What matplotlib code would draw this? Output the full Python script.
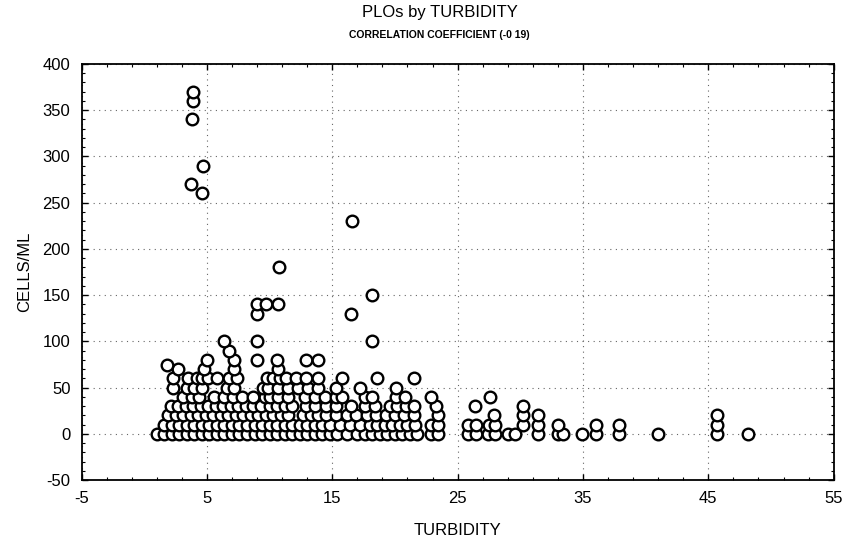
import numpy as np
import matplotlib
matplotlib.use("Agg")
from matplotlib import pyplot as plt
from matplotlib.ticker import MultipleLocator

plt.rcParams["font.family"] = ["Liberation Sans", "DejaVu Sans"]
plt.rcParams["axes.unicode_minus"] = False

# turbidity values for each cells/ml level
turb_0 = [1.0, 1.6, 2.2, 2.8, 3.4, 4.0, 4.6, 5.2, 5.8, 6.4, 7.0, 7.6, 8.2, 8.8, 9.4,
          10.0, 10.6, 11.2, 11.8, 12.4, 13.0, 13.6, 14.2, 14.8, 15.4, 16.2, 17.0,
          17.6, 18.2, 18.8, 19.4, 20.0, 20.6, 21.2, 21.8, 22.9, 23.4, 25.8, 26.5,
          27.4, 28.0, 29.0, 29.6, 31.4, 33.0, 33.4, 34.9, 36.0, 37.9, 41.0, 45.7, 48.2]
turb_10 = [1.6, 2.2, 2.8, 3.4, 4.0, 4.6, 5.2, 5.8, 6.4, 7.0, 7.6, 8.2, 8.8, 9.4,
           10.0, 10.6, 11.2, 11.8, 12.4, 13.0, 13.6, 14.2, 14.8, 15.6, 16.4, 17.2,
           18.0, 18.6, 19.2, 19.8, 20.4, 21.0, 21.6, 22.9, 23.4, 25.8, 26.5, 27.5,
           28.0, 30.2, 31.4, 33.0, 36.0, 37.9, 45.7]
turb_20 = [1.9, 2.5, 3.1, 3.7, 4.3, 4.9, 5.5, 6.1, 6.7, 7.3, 7.9, 8.5, 9.1, 9.7,
           10.3, 10.9, 11.5, 12.7, 13.3, 13.9, 14.5, 15.3, 16.2, 16.9, 17.8, 18.5,
           19.3, 20.0, 20.7, 21.5, 23.4, 27.9, 30.2, 31.4, 45.7]
turb_30 = [2.1, 2.7, 3.3, 3.9, 4.5, 5.1, 5.7, 6.3, 6.9, 7.5, 8.1, 8.7, 9.3, 10.0,
           10.6, 11.2, 11.8, 12.9, 13.6, 14.5, 15.3, 16.5, 17.6, 18.4, 19.6, 20.2,
           20.9, 21.5, 23.3, 26.4, 30.2]
turb_40 = [3.1, 3.8, 4.4, 5.6, 6.4, 7.1, 7.8, 8.7, 9.6, 10.0, 10.7, 11.5, 12.8,
           13.6, 14.4, 15.3, 15.8, 17.6, 18.2, 20.1, 20.8, 22.9, 27.6]
turb_50 = [2.3, 3.4, 4.0, 4.6, 6.6, 7.2, 9.5, 9.9, 10.7, 11.5, 12.3, 13.1, 13.9,
           15.3, 17.2, 20.1]
turb_60 = [2.3, 3.5, 4.2, 4.6, 5.1, 5.8, 6.8, 7.4, 9.8, 10.3, 10.8, 11.3, 12.1,
           12.9, 13.9, 15.8, 18.6, 21.5]
turb_70 = [2.7, 4.8, 7.2, 10.7]
turb_75 = [1.8]
turb_80 = [5.0, 7.2, 9.0, 10.6, 12.9, 13.9]
turb_90 = [6.8]
turb_100 = [6.4, 9.0, 18.2]
turb_130 = [9.0, 16.5]
turb_140 = [9.0, 9.7, 10.7]
turb_150 = [18.2]
turb_180 = [10.75]
turb_230 = [16.6]
turb_260 = [4.6]
turb_270 = [3.7]
turb_290 = [4.7]
turb_340 = [3.8]
turb_360 = [3.9]
turb_370 = [3.9]

levels = {0: turb_0, 10: turb_10, 20: turb_20, 30: turb_30, 40: turb_40,
          50: turb_50, 60: turb_60, 70: turb_70, 75: turb_75, 80: turb_80,
          90: turb_90, 100: turb_100, 130: turb_130, 140: turb_140,
          150: turb_150, 180: turb_180, 230: turb_230, 260: turb_260,
          270: turb_270, 290: turb_290, 340: turb_340, 360: turb_360,
          370: turb_370}

xs, ys = [], []
for cells, turbs in levels.items():
    xs.extend(turbs)
    ys.extend([cells] * len(turbs))

fig = plt.figure(figsize=(8.49, 5.42), dpi=100)
ax = fig.add_axes([0.096, 0.114, 0.886, 0.768])

ax.scatter(xs, ys, s=70, facecolors="white", edgecolors="black",
           linewidths=1.7, zorder=3)

ax.set_xlim(-5, 55)
ax.set_ylim(-50, 400)
ax.set_xticks(np.arange(-5, 56, 10))
ax.xaxis.set_minor_locator(MultipleLocator(2, offset=1))
ax.yaxis.set_major_locator(MultipleLocator(50))
ax.yaxis.set_minor_locator(MultipleLocator(10))
ax.tick_params(which="both", direction="in", top=True, right=True,
               labelsize=12)
ax.tick_params(which="major", length=4, width=1, pad=8)
ax.tick_params(which="minor", length=2, width=0.8)
ax.grid(True, which="major", linestyle=(0, (1, 4)), color="0.4",
        linewidth=0.8)
for sp in ax.spines.values():
    sp.set_linewidth(1.3)

ax.set_xlabel("TURBIDITY", fontsize=12, labelpad=12)
ax.set_ylabel("CELLS/ML", fontsize=12)
ax.yaxis.set_label_coords(-0.066, 0.5)
fig.text(0.518, 0.99, "PLOs by TURBIDITY", ha="center", va="top",
         fontsize=12)
fig.text(0.518, 0.945, "CORRELATION COEFFICIENT (-0 19)", ha="center",
         va="top", fontsize=7.5, fontweight="bold")

fig.savefig("out.png", dpi=100)
